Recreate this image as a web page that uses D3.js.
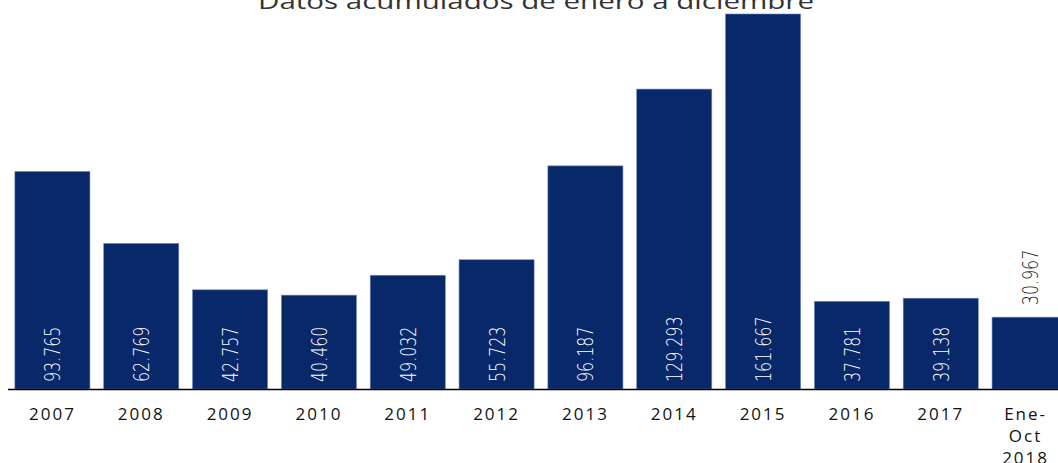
<!DOCTYPE html>
<html>
<head>
<meta charset="utf-8">
<script src="https://cdn.jsdelivr.net/npm/d3@7"></script>
<style>
  body { margin: 0; background: #fff; overflow: hidden; }
</style>
</head>
<body>
<svg id="svg" width="1058" height="463"></svg>
<script>
// data
const years = ["2007", "2008", "2009", "2010", "2011", "2012", "2013", "2014", "2015", "2016", "2017", "Ene-Oct 2018"];
const values = [93.765, 62.769, 42.757, 40.460, 49.032, 55.723, 96.187, 129.293, 161.667, 37.781, 39.138, 30.967];
const labels = ["93.765", "62.769", "42.757", "40.460", "49.032", "55.723", "96.187", "129.293", "161.667", "37.781", "39.138", "30.967"];
const title = "Datos acumulados de enero a diciembre";

const dims = { width: 1058, height: 463 };
const baseY = 389;

let mySvg = d3.select('#svg');

let xScale = d3.scaleBand()
    .domain(years)
    .range([8, 1074])
    .paddingInner(0.155)
    .paddingOuter(0.0775);
let yScale = d3.scaleLinear()
    .domain([0, 161.667])
    .range([baseY, 14]);

// title
mySvg.append("text")
    .attr("x", 536)
    .attr("y", 9)
    .attr("text-anchor", "middle")
    .attr("font-family", "'Open Sans', sans-serif")
    .attr("font-size", 21)
    .attr("textLength", 556)
    .attr("lengthAdjust", "spacingAndGlyphs")
    .attr("fill", "#333")
    .text(title);

// bars
mySvg.selectAll("rect.bar")
    .data(values)
    .enter().append("rect")
    .attr("class", "bar")
    .attr("x", (d, i) => xScale(years[i]))
    .attr("y", d => yScale(d))
    .attr("width", xScale.bandwidth())
    .attr("height", d => baseY - yScale(d))
    .attr("fill", "#08286a")
    .attr("stroke", "#6f86c0")
    .attr("stroke-width", 0.6);

// value labels (narrow look: squeeze along the text direction)
mySvg.selectAll("text.val")
    .data(values)
    .enter().append("text")
    .attr("class", "val")
    .attr("transform", (d, i) => {
        let cx = xScale(years[i]) + xScale.bandwidth() / 2 + 8;
        let y = i === values.length - 1 ? yScale(d) - 12 : baseY - 7;
        return `translate(${cx}, ${y}) rotate(-90) scale(0.72, 1)`;
    })
    .attr("font-family", "DejaVu Sans, sans-serif")
    .attr("font-weight", 300)
    .attr("font-size", 22)
    .attr("fill", (d, i) => i === values.length - 1 ? "#222" : "#fff")
    .text((d, i) => labels[i]);

// axis line
mySvg.append("line")
    .attr("x1", 8).attr("x2", dims.width)
    .attr("y1", baseY + 0.5).attr("y2", baseY + 0.5)
    .attr("stroke", "#000")
    .attr("stroke-width", 1.5);

// x labels
let xl = mySvg.selectAll("text.xl")
    .data(years)
    .enter().append("text")
    .attr("class", "xl")
    .attr("x", d => xScale(d) + xScale.bandwidth() / 2)
    .attr("y", 420)
    .attr("text-anchor", "middle")
    .attr("font-family", "'Open Sans', sans-serif")
    .attr("font-size", 17)
    .attr("letter-spacing", 2)
    .attr("fill", "#111");

xl.each(function(d) {
    let parts = d === "Ene-Oct 2018" ? ["Ene-", "Oct", "2018"] : [d];
    let t = d3.select(this);
    parts.forEach((p, j) => {
        t.append("tspan")
            .attr("x", xScale(d) + xScale.bandwidth() / 2 + (parts.length > 1 ? -4 : 0))
            .attr("dy", j === 0 ? 0 : 22)
            .text(p);
    });
});
</script>
</body>
</html>
